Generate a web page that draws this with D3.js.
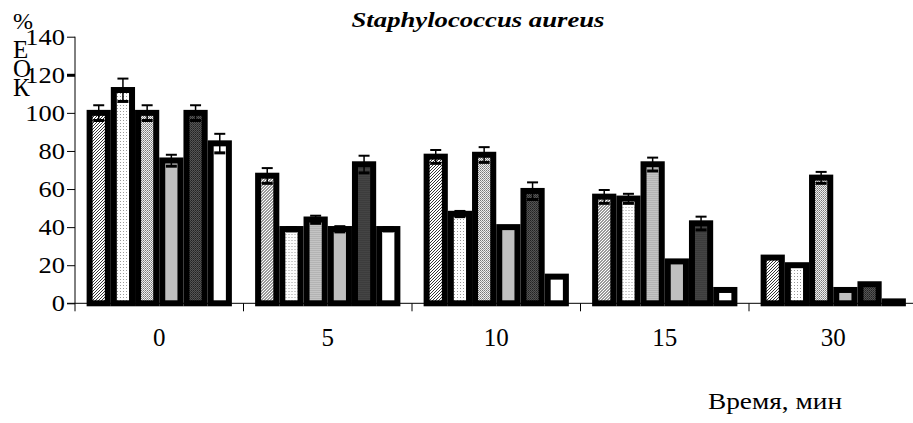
<!DOCTYPE html>
<html>
<head>
<meta charset="utf-8">
<script src="https://cdn.jsdelivr.net/npm/d3@7/dist/d3.min.js"></script>
<style>
  html, body { margin: 0; padding: 0; background: #fff; }
  svg { display: block; }
</style>
</head>
<body>
<svg id="chart" width="913" height="423"></svg>
<script>
// Time points (min) and six treatment series, % КОЕ relative to control
const categories = ["0", "5", "10", "15", "30"];
const series1 = [100, 67, 77, 56, 24];
const series2 = [112, 39, 47, 55, 20];
const series3 = [100, 44, 78, 73, 66];
const series4 = [75, 39, 40, 22, 7];
const series5 = [100, 73, 59, 42, 10];
const series6 = [84, 39, 14, 7, 1];
const errors1 = [4, 4, 3.5, 3.5, 0.5];
const errors2 = [6, 1, 1.5, 2.5, 0.5];
const errors3 = [4, 2, 4, 3.5, 3];
const errors4 = [3, 1.5, 0.5, 0, 0];
const errors5 = [4, 4.5, 4.5, 3.5, 0.5];
const errors6 = [5, 1, 0, 0, 0];
const yTicks = [0, 20, 40, 60, 80, 100, 120, 140];
const yLabelLetters = ["Е", "О", "К"];
const titleText = "Staphylococcus aureus";
const xTitleText = "Время, мин";

const seriesValues = [series1, series2, series3, series4, series5, series6];
const seriesErrors = [errors1, errors2, errors3, errors4, errors5, errors6];
const seriesKeys = seriesValues.map((_, i) => "s" + (i + 1));
const font = (size, extra = "") =>
  `font-family:'Liberation Serif';font-size:${size}px;fill:#000;${extra}`;

const svg = d3.select("#chart");
svg.append("rect").attr("width", 913).attr("height", 423).attr("fill", "#fff");

// Fill patterns for the six series
const defs = svg.append("defs");
function pattern(id, size, draw) {
  const p = defs.append("pattern").attr("id", id)
    .attr("patternUnits", "userSpaceOnUse").attr("width", size).attr("height", size);
  draw(p);
}
pattern("p1", 3, p => {
  p.append("rect").attr("width", 3).attr("height", 3).attr("fill", "#fff");
  p.append("path").attr("d", "M-1,1 L1,-1 M0,3 L3,0 M2,4 L4,2")
    .attr("stroke", "#333").attr("stroke-width", 1);
});
pattern("p2", 3, p => {
  p.append("rect").attr("width", 3).attr("height", 3).attr("fill", "#fff");
  p.append("rect").attr("width", 1).attr("height", 1).attr("fill", "#999");
});
pattern("p3", 2, p => {
  p.append("rect").attr("width", 2).attr("height", 2).attr("fill", "#eee");
  p.append("rect").attr("width", 1).attr("height", 1).attr("fill", "#777");
  p.append("rect").attr("x", 1).attr("y", 1).attr("width", 1).attr("height", 1).attr("fill", "#999");
});
pattern("p4", 2, p => {
  p.append("rect").attr("width", 2).attr("height", 2).attr("fill", "#c0c0c0");
});
pattern("p5", 2, p => {
  p.append("rect").attr("width", 2).attr("height", 2).attr("fill", "#555");
  p.append("rect").attr("width", 1).attr("height", 1).attr("fill", "#222");
  p.append("rect").attr("x", 1).attr("y", 1).attr("width", 1).attr("height", 1).attr("fill", "#333");
});
pattern("p6", 2, p => {
  p.append("rect").attr("width", 2).attr("height", 2).attr("fill", "#fff");
});

// Scales
const x0 = d3.scaleBand().domain(categories).range([75, 917.5]).paddingInner(0).paddingOuter(0);
const x1 = d3.scaleBand().domain(seriesKeys).range([0, x0.bandwidth()]).paddingInner(0).paddingOuter(0.48);
const y = d3.scaleLinear().domain([0, 140]).range([303.3, 36.7]);

// Bars with thick black outlines
const stroke = 6;
const groups = svg.append("g").selectAll("g").data(categories).join("g")
  .attr("transform", d => `translate(${x0(d)},0)`);

groups.each(function(cat, ci) {
  const g = d3.select(this);
  seriesKeys.forEach((key, si) => {
    const v = seriesValues[si][ci];
    g.append("rect")
      .attr("x", x1(key) + stroke / 2)
      .attr("width", x1.bandwidth() - stroke)
      .attr("y", y(v))
      .attr("height", y(0) - y(v))
      .attr("fill", `url(#p${si + 1})`)
      .attr("stroke", "#000")
      .attr("stroke-width", stroke);
  });
  // error bars: thin upper cap, heavy lower cap
  seriesKeys.forEach((key, si) => {
    const v = seriesValues[si][ci];
    const e = seriesErrors[si][ci];
    if (e <= 0) return;
    const cx = x1(key) + x1.bandwidth() / 2;
    const hw = 5.5;
    g.append("line").attr("x1", cx).attr("x2", cx)
      .attr("y1", y(v + e)).attr("y2", y(v - e))
      .attr("stroke", "#000").attr("stroke-width", 1.5);
    g.append("line").attr("x1", cx - hw).attr("x2", cx + hw)
      .attr("y1", y(v + e)).attr("y2", y(v + e))
      .attr("stroke", "#000").attr("stroke-width", 2);
    g.append("line").attr("x1", cx - hw).attr("x2", cx + hw)
      .attr("y1", y(v - e)).attr("y2", y(v - e))
      .attr("stroke", "#000").attr("stroke-width", 3);
  });
});

// Y axis
const yAxis = svg.append("g").attr("transform", "translate(75,0)")
  .call(d3.axisLeft(y).tickValues(yTicks).tickSize(8).tickPadding(2));
yAxis.select(".domain").attr("stroke", "#000").attr("stroke-width", 1).attr("d", `M0,${y(140)}V${y(0)}`);
yAxis.selectAll(".tick line").attr("stroke", "#000").attr("stroke-width", d => d === 120 ? 3 : 1);
yAxis.selectAll(".tick text")
  .attr("style", font(23))
  .each(function() {
    const len = this.getComputedTextLength();
    d3.select(this).attr("textLength", len * 1.15).attr("lengthAdjust", "spacingAndGlyphs");
  });

// X axis: baseline with separators between groups
const xAxis = svg.append("g").attr("transform", `translate(0,${y(0)})`);
xAxis.append("line").attr("x1", 67).attr("x2", 917.5).attr("y1", 0).attr("y2", 0)
  .attr("stroke", "#000").attr("stroke-width", 1);
const bounds = categories.map(c => x0(c)).concat([x0.range()[1]]);
xAxis.selectAll("line.sep").data(bounds).join("line").attr("class", "sep")
  .attr("x1", d => d).attr("x2", d => d).attr("y1", 0).attr("y2", 8)
  .attr("stroke", "#000").attr("stroke-width", 1);
xAxis.selectAll("text.cat").data(categories).join("text").attr("class", "cat")
  .attr("x", d => x0(d) + x0.bandwidth() / 2).attr("y", 43)
  .attr("text-anchor", "middle").attr("style", font(25))
  .text(d => d);

// Titles
svg.append("text").attr("x", 478).attr("y", 27).attr("text-anchor", "middle")
  .attr("style", font(21, "font-weight:bold;font-style:italic;"))
  .attr("textLength", 253).attr("lengthAdjust", "spacingAndGlyphs")
  .text(titleText);

svg.append("text").attr("x", 708).attr("y", 409)
  .attr("style", font(24))
  .attr("textLength", 134).attr("lengthAdjust", "spacingAndGlyphs")
  .text(xTitleText);

// Vertical unit label: "%" over stacked letters
svg.append("text").attr("x", 13).attr("y", 29).attr("style", font(24)).text("%");
svg.selectAll("text.ylet").data(yLabelLetters).join("text").attr("class", "ylet")
  .attr("x", 13).attr("y", (d, i) => 58 + i * 19)
  .attr("style", font(25))
  .text(d => d);
</script>
</body>
</html>
